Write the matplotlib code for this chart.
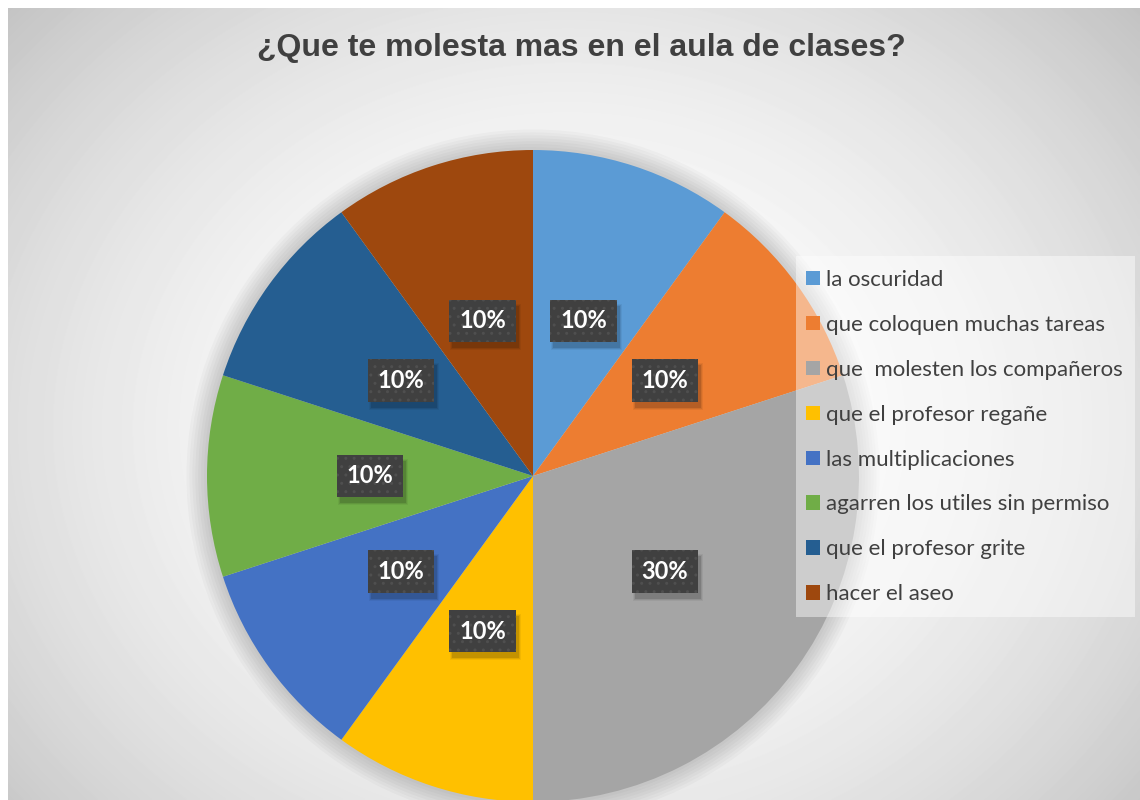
import numpy as np
import matplotlib
matplotlib.use("Agg")
import matplotlib.pyplot as plt
from matplotlib.patches import Circle, Rectangle
from matplotlib.transforms import IdentityTransform

title = "¿Que te molesta mas en el aula de clases?"
categories = [
    "la oscuridad",
    "que coloquen muchas tareas",
    "que  molesten los compañeros",
    "que el profesor regañe",
    "las multiplicaciones",
    "agarren los utiles sin permiso",
    "que el profesor grite",
    "hacer el aseo",
]
values = [10, 10, 30, 10, 10, 10, 10, 10]
colors = ["#5B9BD5", "#ED7D31", "#A5A5A5", "#FFC000",
          "#4472C4", "#70AD47", "#255E91", "#9E480E"]

W, H = 1140, 800
fig = plt.figure(figsize=(W / 100, H / 100), dpi=100)
fig.patch.set_facecolor("white")

# background: soft radial gradient like the office chart area
bg = fig.add_axes([8 / W, 0, 1 - 8 / W, 1 - 8 / H], zorder=-5)
yy, xx = np.mgrid[0:792, 0:1132]
d2 = ((xx - 560) / 560.0) ** 2 + ((yy - 420) / 470.0) ** 2
shade = np.clip(255 - 33 * d2, 185, 255) / 255.0
bg.imshow(shade, cmap="gray", vmin=0, vmax=1, aspect="auto",
          interpolation="bilinear")
bg.axis("off")

fig.text(581 / W, 1 - 48 / H, title, ha="center", va="center",
         fontsize=23, fontweight="bold", color="#404040",
         family="Liberation Sans")

# pie axes: center (533, 476), radius 326 px
cx, cy, r = 533, 476, 326
ax = fig.add_axes([(cx - r) / W, (H - cy - r) / H, 2 * r / W, 2 * r / H])

# soft shadow around the pie
for i in range(1, 8):
    ax.add_patch(Circle((0, 0), 1 + 0.009 * i, color="black", alpha=0.025,
                        lw=0, clip_on=False, zorder=0))

wedges, texts, autotexts = ax.pie(
    values, colors=colors, startangle=90, counterclock=False, radius=1,
    autopct="%1.0f%%", pctdistance=0.5,
    wedgeprops=dict(linewidth=0),
    textprops=dict(color="white", fontsize=17, fontweight="bold",
                   family="Lato"),
)
ax.set_xlim(-1, 1)
ax.set_ylim(-1, 1)
ax.axis("off")
for w in wedges:
    w.set_zorder(1)
    w.set_clip_on(False)

for t in autotexts:
    t.set_zorder(5)
    t.set_bbox(dict(boxstyle="square,pad=0.42", facecolor="#404040",
                    edgecolor="#4f4f4f", hatch="..", linewidth=0))

# legend panel
fig.patches.append(Rectangle((796 / W, 1 - 617 / H), 339 / W, 361 / H,
                             transform=fig.transFigure, facecolor="white",
                             alpha=0.45, linewidth=0, zorder=2))
leg = fig.legend(wedges, categories, loc="upper left",
                 bbox_to_anchor=(806 / W, 1 - 270 / H), frameon=False,
                 prop=dict(family="Lato", size=16), labelcolor="#404040",
                 handlelength=0.62, handleheight=0.62, handletextpad=0.3,
                 labelspacing=1.12, borderpad=0, borderaxespad=0)
leg.set_zorder(3)

# blurred drop shadow behind the label boxes
fig.canvas.draw()
renderer = fig.canvas.get_renderer()
for t in autotexts:
    bb = t.get_bbox_patch().get_window_extent(renderer)
    for k, a in [(0, 0.12), (2, 0.08), (4, 0.05)]:
        ax.add_patch(Rectangle((bb.x0 + 3 - k / 2, bb.y0 - 6 - k / 2),
                               bb.width + k, bb.height + k,
                               transform=IdentityTransform(),
                               facecolor="black", alpha=a, lw=0,
                               zorder=4, clip_on=False))

fig.savefig("out.png", dpi=100)
